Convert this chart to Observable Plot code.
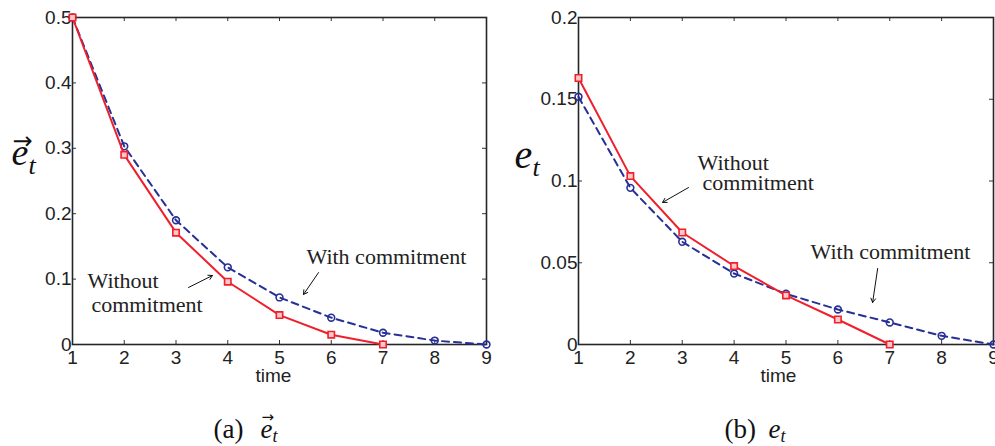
<!DOCTYPE html>
<html><head><meta charset="utf-8">
<script src="https://cdn.jsdelivr.net/npm/d3@7"></script>
<script src="https://cdn.jsdelivr.net/npm/@observablehq/plot@0.6"></script>
<style>
body{margin:0;background:#fff;}
#wrap{position:relative;width:995px;height:446px;overflow:hidden;background:#fff;}
#wrap svg{position:absolute;top:0;overflow:visible;}
</style></head><body><div id="wrap"></div>
<script>
// ---- data ----
const timeAll = [1, 2, 3, 4, 5, 6, 7, 8, 9];
const timeWithout = [1, 2, 3, 4, 5, 6, 7];
// panel (a): vector error
const vecWithout = [0.5, 0.29, 0.171, 0.096, 0.045, 0.015, 0];
const vecWith = [0.5, 0.303, 0.19, 0.118, 0.072, 0.041, 0.018, 0.006, 0];
// panel (b): scalar error
const scalarWithout = [0.163, 0.103, 0.0685, 0.048, 0.030, 0.0153, 0];
const scalarWith = [0.1515, 0.0958, 0.0628, 0.0434, 0.031, 0.0214, 0.0135, 0.0053, 0];

const xTicks = [1, 2, 3, 4, 5, 6, 7, 8, 9];
const vecYTicks = [0, 0.1, 0.2, 0.3, 0.4, 0.5];
const vecYTickLabels = ["0", "0.1", "0.2", "0.3", "0.4", "0.5"];
const scalarYTicks = [0, 0.05, 0.1, 0.15, 0.2];
const scalarYTickLabels = ["0", "0.05", "0.1", "0.15", "0.2"];
const xLabel = "time";

// annotations (data coordinates)
const vecNoteText = ["Without", "commitment", "With commitment"];
const vecNoteX = [1.29, 1.367, 5.522];
const vecNoteY = [0.0979, 0.0612, 0.1346];
const vecArrowX1 = [3.242, 5.754], vecArrowY1 = [0.0872, 0.110];
const vecArrowX2 = [3.705, 5.464], vecArrowY2 = [0.1055, 0.0765];

const scalarNoteText = ["Without", "commitment", "With commitment"];
const scalarNoteX = [3.295, 3.392, 5.474];
const scalarNoteY = [0.1113, 0.0985, 0.0569];
const scalarArrowX1 = [3.121, 6.767], scalarArrowY1 = [0.096, 0.0465];
const scalarArrowX2 = [2.62, 6.67], scalarArrowY2 = [0.0869, 0.0257];

const RED = "rgb(238,32,44)";
const BLUE = "rgb(38,48,150)";
const INK = "#222";

function rows(xs, ys) { return xs.map((x, i) => ({x, y: ys[i]})); }

function panel(o) {
  const W = o.width, H = 446;
  const mt = 17, mb = 102;
  const plotH = H - mt - mb;
  const plotW = W - o.ml - o.mr;
  const tk = 4;
  const notes = o.noteText.map((t, i) => ({t, x: o.noteX[i], y: o.noteY[i]}));
  const arrows = o.ax1.map((v, i) => ({x1: v, y1: o.ay1[i], x2: o.ax2[i], y2: o.ay2[i]}));
  const without = rows(timeWithout, o.without);
  const withC = rows(timeAll, o.withC);
  const sans = "'Liberation Sans', Arial, Helvetica, sans-serif";
  const serif = "'Liberation Serif', 'Times New Roman', serif";
  return Plot.plot({
    width: W, height: H,
    marginLeft: o.ml, marginRight: o.mr, marginTop: mt, marginBottom: mb,
    style: {fontFamily: sans, fontSize: "19px", color: INK, background: "transparent", overflow: "visible"},
    x: {domain: [1, 9]},
    y: {domain: o.yDomain},
    marks: [
      // inward ticks on all four sides
      Plot.tickX(xTicks, {x: d => d, insetTop: plotH - tk, stroke: "#333", strokeWidth: 1}),
      Plot.tickX(xTicks, {x: d => d, insetBottom: plotH - tk, stroke: "#333", strokeWidth: 1}),
      Plot.tickY(o.yTicks, {y: d => d, insetRight: plotW - tk, stroke: "#333", strokeWidth: 1}),
      Plot.tickY(o.yTicks, {y: d => d, insetLeft: plotW - tk, stroke: "#333", strokeWidth: 1}),
      Plot.axisX({ticks: xTicks, tickSize: 0, tickPadding: 6, label: null, tickFormat: d => String(d),
        fill: INK, fontSize: 19, fontFamily: sans}),
      Plot.axisY({ticks: o.yTicks, tickSize: 0, tickPadding: 1, label: null,
        tickFormat: d => o.yTickLabels[o.yTicks.indexOf(d)], fill: INK, fontSize: 19, fontFamily: sans}),
      Plot.frame({stroke: "#262626", strokeWidth: 1.6}),
      // series
      Plot.line(withC, {x: "x", y: "y", stroke: BLUE, strokeWidth: 2, strokeDasharray: "7,5"}),
      Plot.dot(withC, {x: "x", y: "y", r: 3.4, stroke: BLUE, strokeWidth: 1.6, fill: "none"}),
      Plot.line(without, {x: "x", y: "y", stroke: RED, strokeWidth: 2}),
      Plot.dot(without, {x: "x", y: "y", symbol: "square", r: 3.6, stroke: RED, strokeWidth: 1.6, fill: "rgb(255,200,200)"}),
      // annotations
      Plot.text(notes, {x: "x", y: "y", text: "t", textAnchor: "start", lineAnchor: "middle",
        fontFamily: serif, fontSize: 22, fill: "#222"}),
      Plot.arrow(arrows, {x1: "x1", y1: "y1", x2: "x2", y2: "y2", stroke: "#111", strokeWidth: 1, headLength: 7, bend: 0}),
      // x label
      Plot.text([xLabel], {frameAnchor: "bottom", dx: o.timeDx, dy: 31, lineAnchor: "middle", fontSize: 19, fill: INK, fontFamily: sans}),
      // y label
      Plot.text(["e"], {frameAnchor: "top-left", dx: o.eDx, dy: o.eDy, textAnchor: "start", lineAnchor: "bottom",
        fontFamily: serif, fontStyle: "italic", fontSize: o.eSize, fill: "#111"}),
      Plot.text(["t"], {frameAnchor: "top-left", dx: o.tDx, dy: o.tDy, textAnchor: "start", lineAnchor: "bottom",
        fontFamily: serif, fontStyle: "italic", fontSize: 26, fill: "#111"}),
      o.vecArrow ? Plot.text(["\u2192"], {frameAnchor: "top-left", dx: o.arrDx, dy: o.arrDy, textAnchor: "start", lineAnchor: "bottom",
        fontFamily: "'DejaVu Sans', sans-serif", fontSize: 24, fill: "#111"}) : null,
      // caption
      Plot.text([o.capLetter], {frameAnchor: "bottom-left", dx: o.capDx, dy: 93, textAnchor: "start", lineAnchor: "bottom",
        fontFamily: serif, fontSize: 27, fill: "#111"}),
      Plot.text(["e"], {frameAnchor: "bottom-left", dx: o.capEDx, dy: 93, textAnchor: "start", lineAnchor: "bottom",
        fontFamily: serif, fontStyle: "italic", fontSize: 27, fill: "#111"}),
      Plot.text(["t"], {frameAnchor: "bottom-left", dx: o.capEDx + 12, dy: 97, textAnchor: "start", lineAnchor: "bottom",
        fontFamily: serif, fontStyle: "italic", fontSize: 18, fill: "#111"}),
      o.vecArrow ? Plot.text(["\u2192"], {frameAnchor: "bottom-left", dx: o.capEDx + 1, dy: 77, textAnchor: "start", lineAnchor: "bottom",
        fontFamily: "'DejaVu Sans', sans-serif", fontSize: 15, fill: "#111"}) : null
    ]
  });
}

const wrap = document.getElementById("wrap");
const a = panel({
  width: 500, ml: 72, mr: 14, yDomain: [0, 0.5], yTicks: vecYTicks, yTickLabels: vecYTickLabels,
  without: vecWithout, withC: vecWith,
  noteText: vecNoteText, noteX: vecNoteX, noteY: vecNoteY,
  ax1: vecArrowX1, ay1: vecArrowY1, ax2: vecArrowX2, ay2: vecArrowY2,
  timeDx: -6, eDx: -61, eDy: 147, eSize: 38, tDx: -44, tDy: 156, vecArrow: true, arrDx: -60, arrDy: 131,
  capLetter: "(a)", capDx: 141, capEDx: 188
});
a.style.left = "0px";
wrap.appendChild(a);
const b = panel({
  width: 495, ml: 78, mr: 2, yDomain: [0, 0.2], yTicks: scalarYTicks, yTickLabels: scalarYTickLabels,
  without: scalarWithout, withC: scalarWith,
  noteText: scalarNoteText, noteX: scalarNoteX, noteY: scalarNoteY,
  ax1: scalarArrowX1, ay1: scalarArrowY1, ax2: scalarArrowX2, ay2: scalarArrowY2,
  timeDx: -7.5, eDx: -64, eDy: 150, eSize: 40, tDx: -46, tDy: 158, vecArrow: false,
  capLetter: "(b)", capDx: 146, capEDx: 190
});
b.style.left = "500px";
wrap.appendChild(b);
</script></body></html>
